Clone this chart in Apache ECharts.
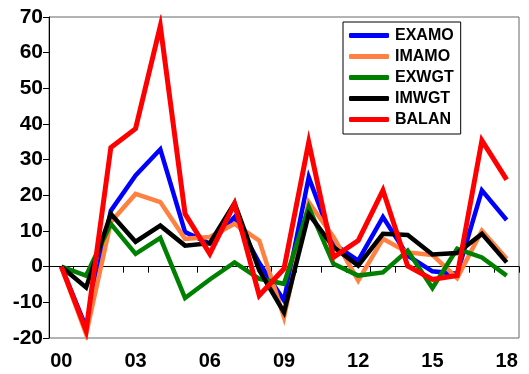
<!DOCTYPE html>
<html>
<head>
<meta charset="utf-8">
<script src="https://cdn.jsdelivr.net/npm/echarts@6/dist/echarts.min.js"></script>
<style>
  html, body { margin: 0; padding: 0; background: #ffffff; }
  #chart { width: 529px; height: 374px; }
</style>
</head>
<body>
<div id="chart"></div>
<script>
// Years 2000-2018, labelled with two digits
const years = ['00','01','02','03','04','05','06','07','08','09','10','11','12','13','14','15','16','17','18'];

const examo = [0, -17, 15.7, 25.6, 32.9, 9.7, 6.5, 13.9, 1.0, -9.5, 25.1, 6.4, 1.7, 13.9, 3.1, -1.3, -2.0, 21.4, 13.1];
const imamo = [0, -18.9, 12.5, 20.4, 18.1, 7.8, 8.3, 12.0, 7.3, -14.2, 18.1, 8.3, -3.9, 7.8, 4.0, 3.3, -3.2, 10.1, 2.2];
const exwgt = [0, -2.5, 12.0, 3.6, 8.1, -8.8, -3.6, 1.2, -3.4, -4.8, 16.7, 0.8, -2.5, -1.6, 4.5, -6.0, 5.0, 2.6, -2.5];
const imwgt = [0, -5.8, 14.8, 7.0, 11.5, 5.9, 6.6, 17.8, -1.0, -12.8, 14.8, 5.5, 0.3, 9.2, 8.9, 3.4, 3.8, 9.2, 1.2];
const balan = [0, -17.9, 33.4, 38.7, 67.5, 14.8, 3.6, 17.6, -8.1, -0.6, 34.9, 2.6, 7.3, 21.4, 0.2, -3.6, -2.5, 35.4, 24.4];

const yMin = -20, yMax = 70, yStep = 10;

const seriesDefs = [
  { name: 'EXAMO', data: examo, color: '#0000ff', width: 4.5 },
  { name: 'IMAMO', data: imamo, color: '#ff8040', width: 4.5 },
  { name: 'EXWGT', data: exwgt, color: '#008000', width: 4.5 },
  { name: 'IMWGT', data: imwgt, color: '#000000', width: 4.5 },
  { name: 'BALAN', data: balan, color: '#ff0000', width: 5 }
];

const chart = echarts.init(document.getElementById('chart'), null, { renderer: 'canvas' });

const labelFont = 'Liberation Sans, Arial, sans-serif';

chart.setOption({
  animation: false,
  backgroundColor: '#ffffff',
  grid: {
    left: 49, right: 10, top: 17, bottom: 36,
    show: true, borderColor: '#666666', borderWidth: 1, backgroundColor: 'transparent'
  },
  legend: {
    orient: 'vertical',
    left: 343, top: 22,
    padding: [3, 7, 4, 6],
    itemGap: 0,
    itemWidth: 40,
    itemHeight: 5,
    icon: 'roundRect',
    borderColor: '#000000',
    borderWidth: 1,
    backgroundColor: '#ffffff',
    textStyle: { fontFamily: labelFont, fontWeight: 'bold', fontSize: 16, color: '#000', lineHeight: 21, padding: [0, 0, 0, 1] },
    data: seriesDefs.map(s => s.name)
  },
  xAxis: {
    type: 'category',
    data: years,
    boundaryGap: true,
    axisLine: { lineStyle: { color: '#000', width: 1 } },
    axisTick: { show: true, interval: 0, length: 6, lineStyle: { color: '#000' } },
    axisLabel: { interval: 2, margin: 13, fontFamily: labelFont, fontWeight: 'bold', fontSize: 20, color: '#000' },
    splitLine: { show: false }
  },
  yAxis: {
    type: 'value',
    min: yMin, max: yMax, interval: yStep,
    axisLine: { show: true, lineStyle: { color: '#000', width: 1 } },
    axisTick: { show: true, length: 6, lineStyle: { color: '#000' } },
    axisLabel: { margin: 6, fontFamily: labelFont, fontWeight: 'bold', fontSize: 21, color: '#000' },
    splitLine: { show: false }
  },
  series: seriesDefs.map(s => ({
    name: s.name,
    type: 'line',
    data: s.data,
    showSymbol: false,
    symbol: 'none',
    color: s.color,
    lineStyle: { color: s.color, width: s.width, join: 'miter' },
    emphasis: { disabled: true }
  }))
});
</script>
</body>
</html>
